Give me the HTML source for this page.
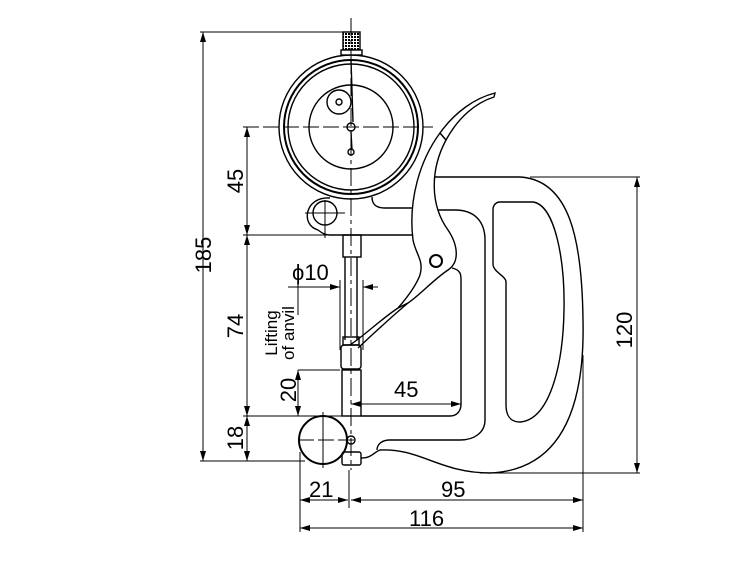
<!DOCTYPE html>
<html><head><style>
html,body{margin:0;padding:0;background:#fff;}
svg{display:block;}
text{font-family:"Liberation Sans",sans-serif;font-size:22px;fill:#000;}
</style></head><body>
<svg width="749" height="564" viewBox="0 0 749 564" xmlns="http://www.w3.org/2000/svg">
<defs>
<marker id="a" markerWidth="10" markerHeight="6" refX="10" refY="3" orient="auto-start-reverse" markerUnits="userSpaceOnUse"><path d="M0,0 L10,3 L0,6 Z" fill="#000"/></marker>
<pattern id="kn" width="3" height="3" patternUnits="userSpaceOnUse"><rect width="3" height="3" fill="#fff"/><rect width="2" height="2" fill="#000"/></pattern>
</defs>
<g fill="none" stroke="#000" stroke-width="1.4">
<!-- frame outer -->
<path d="M361,458 C372,458 374,452 380,450 C420,448 440,473 490,473 C560,470 585,410 583,320 C582,240 570,180 520,177 L428,177"/>
<!-- dial bracket -->
<path d="M372,197 C372,206 378,208 385,208 L412,208"/>
<path d="M330,235 L415,235"/>
<!-- frame inner -->
<path d="M430,210 L455,210 C475,210 485,222 485,240 L485,420 C485,432 475,440 460,440 L390,440 C380,440 377,446 377,450"/>
<path d="M452,268 C461,270 461,275 461,280 L461,404 C461,412 456,416 450,416 L361,416"/>
<!-- hole -->
<path d="M500,202 L533,202 C555,205 565,260 564,310 C563,370 548,420 520,422 C510,422 506,415 506,405 L506,282 C506,276 493,272 493,264 L493,210 C493,205 496,202 500,202 Z"/>
<!-- lever -->
<path fill="#fff" d="M440,133 C420,160 408,200 413,240 C416,255 424,260 420,275 C415,288 405,300 398,308 L408,303 C420,295 433,280 448,270 C460,262 458,245 448,230 C430,205 430,170 446,140 Z"/>
<path d="M398,308 C380,320 365,335 350,345"/>
<path d="M408,303 C390,318 372,335 358,348"/>
<path fill="#fff" d="M440,133 C455,112 475,98 495,93 L494,97 C475,103 458,118 446,140 Z"/>
<circle cx="436" cy="261" r="6" stroke-width="2"/>
<!-- dial -->
<circle cx="351" cy="127" r="72"/>
<circle cx="351" cy="127" r="67" stroke-width="2"/>
<circle cx="351" cy="127" r="63"/>
<circle cx="351" cy="127" r="42"/>
<circle cx="339" cy="102" r="12"/>
<circle cx="339" cy="102" r="3"/>
<circle cx="351" cy="127" r="4" fill="#fff"/>
<circle cx="351" cy="152" r="3"/>
<path d="M351,60 L353,122 M351,132 L352,150"/>
<rect x="343" y="32" width="17" height="18" fill="url(#kn)"/>
<rect x="341" y="50" width="21" height="5" fill="#fff"/>
<!-- clamp -->
<path d="M330,198 C305,196 300,225 318,230 C322,233 325,235 330,235" />
<circle cx="325" cy="213" r="12"/>
<!-- stem -->
<rect x="343" y="235" width="18" height="22"/>
<path d="M345,257 L345,340 M357,257 L357,340"/>
<rect x="343" y="337" width="16" height="8"/>
<rect x="341" y="345" width="20" height="24" rx="3"/>
<rect x="342" y="370" width="19" height="46"/>
<rect x="342" y="452" width="19" height="13" rx="2"/>
<!-- anvil -->
<circle cx="323" cy="440" r="24" stroke-width="2"/>
<circle cx="351" cy="440" r="4"/>
</g>
<g fill="none" stroke="#000" stroke-width="1">
<path d="M351,18 L351,470" stroke-dasharray="18,4,4,4"/>
<path d="M243,127 L433,127" stroke-dasharray="16,4"/>
<path d="M298,440 L358,440" stroke-dasharray="16,4"/>
<path d="M323,412 L323,468 M305,213 L345,213 M325,200 L325,238"/>
<path d="M200,32 L343,32 M200,461 L305,461"/>
<path d="M203,32 L203,461" marker-start="url(#a)" marker-end="url(#a)"/>
<path d="M247,127 L247,235" marker-start="url(#a)" marker-end="url(#a)"/>
<path d="M243,235 L330,235"/>
<path d="M247,235 L247,416" marker-start="url(#a)" marker-end="url(#a)"/>
<path d="M243,416 L343,416"/>
<path d="M247,416 L247,461" marker-start="url(#a)" marker-end="url(#a)"/>
<path d="M298,370 L340,370"/>
<path d="M298,370 L298,416" marker-start="url(#a)" marker-end="url(#a)"/>
<path d="M298,270 L298,315"/>
<path d="M340,280 L340,350 M363,280 L363,350"/>
<path d="M288,287 L340,287" marker-end="url(#a)"/>
<path d="M378,287 L363,287" marker-end="url(#a)"/>
<path d="M351,404 L461,404" marker-start="url(#a)" marker-end="url(#a)"/>
<path d="M530,177 L640,177 M480,473 L640,473"/>
<path d="M637,177 L637,473" marker-start="url(#a)" marker-end="url(#a)"/>
<path d="M300,452 L300,532 M349,470 L349,508 M583,355 L583,532"/>
<path d="M300,500 L348,500" marker-start="url(#a)" marker-end="url(#a)"/>
<path d="M351,500 L583,500" marker-start="url(#a)" marker-end="url(#a)"/>
<path d="M300,528 L583,528" marker-start="url(#a)" marker-end="url(#a)"/>
</g>
<text transform="translate(211,255) rotate(-90)" text-anchor="middle">185</text>
<text transform="translate(243,181) rotate(-90)" text-anchor="middle">45</text>
<text transform="translate(243,326) rotate(-90)" text-anchor="middle">74</text>
<text transform="translate(243,438) rotate(-90)" text-anchor="middle">18</text>
<text transform="translate(296,390) rotate(-90)" text-anchor="middle">20</text>
<text transform="translate(632,330) rotate(-90)" text-anchor="middle">120</text>
<text transform="translate(277,333) rotate(-90)" text-anchor="middle" style="font-size:17px">Lifting</text>
<text transform="translate(294,333) rotate(-90)" text-anchor="middle" style="font-size:17px">of anvil</text>
<text x="292" y="280">ϕ10</text>
<text x="394" y="397">45</text>
<text x="309" y="497">21</text>
<text x="441" y="497">95</text>
<text x="409" y="526">116</text>
</svg>
</body></html>
